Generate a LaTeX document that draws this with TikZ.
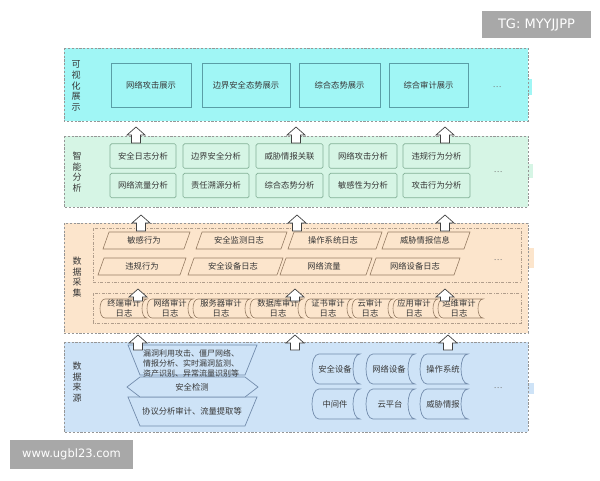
\documentclass[tikz,border=0pt]{standalone}
\usepackage{fontspec}
\setmainfont{Noto Sans CJK SC}
\newfontfamily\latinf{DejaVu Sans}
\definecolor{cyanbg}{RGB}{160,246,245}
\definecolor{greenbg}{RGB}{214,245,229}
\definecolor{peachbg}{RGB}{252,229,204}
\definecolor{bluebg}{RGB}{206,227,247}
\definecolor{layerline}{RGB}{150,150,150}
\definecolor{txt}{RGB}{55,55,55}
\definecolor{cyanline}{RGB}{90,158,166}
\definecolor{greenline}{RGB}{130,176,150}
\definecolor{peachline}{RGB}{150,125,100}
\definecolor{blueline}{RGB}{115,140,172}
\definecolor{wm}{RGB}{168,168,168}
\newcommand\storedshape[6]{%
  \draw[#6] (#1+#5,#3) -- (#2,#3) .. controls (#2-1.33*#5,#3) and (#2-1.33*#5,#4) .. (#2,#4)
    -- (#1+#5,#4) .. controls (#1-0.33*#5,#4) and (#1-0.33*#5,#3) .. (#1+#5,#3) -- cycle;}
\newcommand\pgbox[7]{%
  \draw[pgsty] (#1,#4) -- (#1+6,#3) -- (#2,#3) -- (#2-6,#4) -- cycle;
  \node[t] (#7) at (#6,{(#3+#4)/2}) {#5};}
\newcommand\blockup[3]{%
  \draw[arrsty] (#1,#2) -- (#1+9,#2+8) -- (#1+4.5,#2+8) -- (#1+4.5,#2+#3)
    -- (#1-4.5,#2+#3) -- (#1-4.5,#2+8) -- (#1-9,#2+8) -- cycle;}
\begin{document}
\begin{tikzpicture}[x=1pt,y=-1pt,
  layer/.style={draw=layerline, dash pattern=on 2.2pt off 1.6pt, line width=0.7pt},
  lbl/.style={text=txt, font=\fontsize{9}{10.6}\selectfont, align=center, inner sep=0pt},
  t/.style={text=txt, font=\fontsize{8.3}{10}\selectfont, inner sep=0pt, align=center},
  vbox/.style={t, draw=cyanline, fill=cyanbg, line width=0.7pt, minimum height=44},
  gbox/.style={t, draw=greenline, fill=greenbg, line width=0.7pt, rounded corners=1.5pt, minimum height=24.5},
  pgsty/.style={draw=peachline, fill=peachbg, line width=0.6pt},
  logsty/.style={draw=peachline, fill=peachbg, line width=0.6pt},
  srcsty/.style={draw=blueline, fill=bluebg, line width=0.7pt},
  inner/.style={draw=peachline!75, dash pattern=on 3pt off 1.5pt on 0.8pt off 1.5pt, line width=0.7pt},
  arrsty/.style={draw=black!75, fill=white, line width=0.7pt, line join=miter},
  dots/.style={text=black!55, font=\fontsize{8}{8}\selectfont, inner sep=0pt},
  wmark/.style={fill=wm, text=white, inner sep=0pt}]
\useasboundingbox (0,0) rectangle (600,480);
\fill[white] (0,0) rectangle (600,480);

% watermarks
\node[wmark, minimum width=109, minimum height=27, font=\latinf\fontsize{13}{13}\selectfont] (tg) at (536.5,24.5) {TG: MYYJJPP};
\node[wmark, minimum width=123, minimum height=29, font=\latinf\fontsize{11.5}{11.5}\selectfont] (www) at (71.5,454.5) {www.ugbl23.com};

% ---------------- layer 1 ----------------
\fill[cyanbg] (527,79) rectangle (532,95);
\draw[layer, fill=cyanbg] (64,48) rectangle (528,121);
\node[lbl] (L1) at (76,86) {可\\视\\化\\展\\示};
\node[vbox, minimum width=80] (v1) at (151,85) {网络攻击展示};
\node[vbox, minimum width=88] (v2) at (246,85) {边界安全态势展示};
\node[vbox, minimum width=81] (v3) at (339.5,85) {综合态势展示};
\node[vbox, minimum width=79] (v4) at (428.5,85) {综合审计展示};
\node[dots] (d1) at (497,87) {…};

% ---------------- layer 2 ----------------
\fill[greenbg] (527,164) rectangle (533,178);
\draw[layer, fill=greenbg] (64,136) rectangle (528,207);
\node[lbl] (L2) at (77,172) {智\\能\\分\\析};
\node[gbox, minimum width=66] (a1) at (143,156) {安全日志分析};
\node[gbox, minimum width=66] (a2) at (216,156) {边界安全分析};
\node[gbox, minimum width=67] (a3) at (289.5,156) {威胁情报关联};
\node[gbox, minimum width=68] (a4) at (363,156) {网络攻击分析};
\node[gbox, minimum width=67] (a5) at (436.5,156) {违规行为分析};
\node[gbox, minimum width=66] (b1) at (143,185.5) {网络流量分析};
\node[gbox, minimum width=66] (b2) at (216,185.5) {责任溯源分析};
\node[gbox, minimum width=67] (b3) at (289.5,185.5) {综合态势分析};
\node[gbox, minimum width=68] (b4) at (363,185.5) {敏感性为分析};
\node[gbox, minimum width=67] (b5) at (436.5,185.5) {攻击行为分析};
\node[dots] (d2) at (498,172) {…};

% ---------------- layer 3 ----------------
\fill[peachbg] (527,248) rectangle (534,268);
\draw[layer, fill=peachbg] (64,223) rectangle (528,333);
\node[lbl] (L3) at (77,277) {数\\据\\采\\集};
\draw[inner] (93,228) rectangle (521,282);
\draw[inner] (93,293) rectangle (521,323);
\pgbox{103}{190}{232}{249}{敏感行为}{144}{c1}
\pgbox{196}{287}{232}{249}{安全监测日志}{239}{c2}
\pgbox{288}{382}{232}{249}{操作系统日志}{333}{c3}
\pgbox{382}{470}{232}{249}{威胁情报信息}{425}{c4}
\pgbox{98}{186}{258}{275}{违规行为}{142}{e1}
\pgbox{188}{283}{258}{275}{安全设备日志}{233}{e2}
\pgbox{280}{372}{258}{275}{网络流量}{324}{e3}
\pgbox{370}{460}{258}{275}{网络设备日志}{415}{e4}
\node[dots] (d3) at (498,260) {…};
% audit log shapes
\storedshape{100}{147}{299}{318}{5}{logsty}
\storedshape{147}{193}{299}{318}{5}{logsty}
\storedshape{193}{250}{299}{318}{5}{logsty}
\storedshape{250}{303}{299}{318}{5}{logsty}
\storedshape{305}{352}{299}{318}{5}{logsty}
\storedshape{352}{393}{299}{318}{5}{logsty}
\storedshape{393}{438}{299}{318}{5}{logsty}
\storedshape{438}{483}{299}{318}{5}{logsty}
\node[t] (g1) at (124,308) {终端审计\\日志};
\node[t] (g2) at (170,308) {网络审计\\日志};
\node[t] (g3) at (221,308) {服务器审计\\日志};
\node[t] (g4) at (278,308) {数据库审计\\日志};
\node[t] (g5) at (328,308) {证书审计\\日志};
\node[t] (g6) at (370,308) {云审计\\日志};
\node[t] (g7) at (414,308) {应用审计\\日志};
\node[t] (g8) at (459,308) {运维审计\\日志};

% ---------------- layer 4 ----------------
\fill[bluebg] (527,383) rectangle (534,394);
\draw[layer, fill=bluebg] (64,342) rectangle (528,432);
\node[lbl] (L4) at (77,382) {数\\据\\来\\源};
\draw[srcsty] (128,345) -- (257,345) -- (245,375) -- (140,375) -- cycle;
\draw[srcsty] (128,397) -- (257,397) -- (245,426) -- (140,426) -- cycle;
\draw[srcsty] (127,387) -- (140,377) -- (245,377) -- (258,387) -- (245,397) -- (140,397) -- cycle;
\node[t, font=\fontsize{8}{10}\selectfont, align=left] (s1) at (191,363) {漏洞利用攻击、僵尸网络、\\情报分析、实时漏洞监测、\\资产识别、异常流量识别等};
\node[t] (s2) at (192,387) {安全检测};
\node[t] (s3) at (192,411) {协议分析审计、流量提取等};
\storedshape{312}{360}{354}{384}{7}{srcsty}
\storedshape{366}{415}{354}{384}{7}{srcsty}
\storedshape{420}{468}{354}{384}{7}{srcsty}
\storedshape{312}{360}{389}{419}{7}{srcsty}
\storedshape{366}{415}{389}{419}{7}{srcsty}
\storedshape{420}{468}{389}{419}{7}{srcsty}
\node[t] (h1) at (335,369) {安全设备};
\node[t] (h2) at (389,369) {网络设备};
\node[t] (h3) at (443,369) {操作系统};
\node[t] (h4) at (335,404) {中间件};
\node[t] (h5) at (390,404) {云平台};
\node[t] (h6) at (443,404) {威胁情报};
\node[dots] (d4) at (498,388) {…};

% ---------------- arrows ----------------
\blockup{136}{127}{16}
\blockup{296}{127}{16}
\blockup{445}{127}{16}
\blockup{141}{215}{16}
\blockup{297}{215}{16}
\blockup{445}{215}{16}
\blockup{138}{289}{12}
\blockup{295}{289}{12}
\blockup{445}{289}{12}
\blockup{138}{335}{15}
\blockup{295}{335}{15}
\blockup{448}{335}{15}
\end{tikzpicture}
\end{document}
